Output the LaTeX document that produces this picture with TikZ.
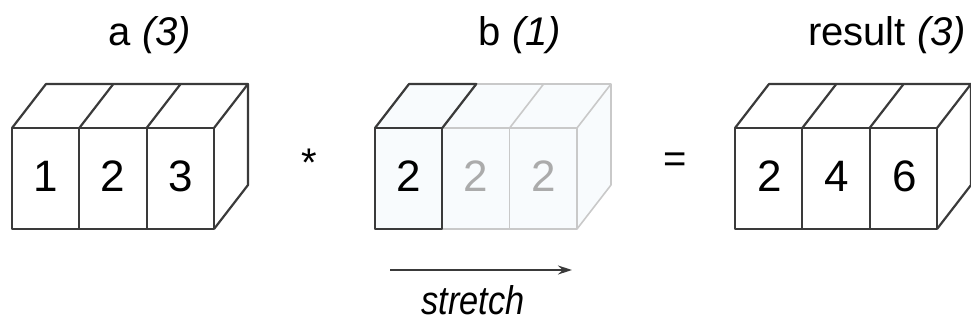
\documentclass[tikz,border=0pt]{standalone}
\usepackage{fontspec}
\setmainfont{Liberation Sans}
\usetikzlibrary{arrows.meta}
\definecolor{edge}{HTML}{3A3A3A}
\definecolor{faint}{HTML}{C9C9C9}
\definecolor{faintfill}{HTML}{F8FBFD}
\definecolor{fainttext}{HTML}{ABABAB}
\tikzset{
  cube/.style={draw=edge, line width=2.2pt, line join=round},
  ghost/.style={draw=faint, line width=1.6pt, line join=round},
  digit/.style={font=\fontsize{44}{44}\selectfont, inner sep=0pt, anchor=center},
  title/.style={font=\fontsize{40}{40}\selectfont, inner sep=0pt, anchor=base},
  oper/.style={font=\fontsize{40}{40}\selectfont, inner sep=0pt, anchor=center},
}
\newcommand{\blockbox}[2]{% #1 = x0, #2 = style
  \draw[#2] (#1,128) rectangle ++(202,101);
  \draw[#2] (#1+67.3,128) -- ++(0,101);
  \draw[#2] (#1+134.6,128) -- ++(0,101);
  \draw[#2] (#1,128) -- ++(34,-44) -- ++(202,0) -- ++(-34,44);
  \draw[#2] (#1+67.3,128) -- ++(34,-44);
  \draw[#2] (#1+134.6,128) -- ++(34,-44);
  \draw[#2] (#1+236,84) -- ++(0,101) -- ++(-34,44);
}
\begin{document}
\begin{tikzpicture}[x=1pt,y=-1pt]
\useasboundingbox (0,0) rectangle (971,324);
% block a
\blockbox{12}{cube}
\node[digit] (a1) at (45.6,176) {1};
\node[digit] (a2) at (113,176) {2};
\node[digit] (a3) at (180.3,176) {3};
\node[title] (ta) at (150,45) {a \textit{(3)}};
% operator
\node[oper] (times) at (309,163) {*};
% block b
\fill[faintfill] (375,128) -- (409,84) -- (611,84) -- (611,185) -- (577,229) -- (375,229) -- cycle;
\blockbox{375}{ghost}
\draw[cube] (375,128) rectangle ++(67.3,101);
\draw[cube] (375,128) -- ++(34,-44) -- ++(67.3,0) -- ++(-34,44);
\node[digit] (b1) at (408.6,176) {2};
\node[digit, text=fainttext] (b2) at (476,176) {2};
\node[digit, text=fainttext] (b3) at (543.3,176) {2};
\node[title] (tb) at (520,45) {b \textit{(1)}};
% stretch arrow
\coordinate (s0) at (390,270);
\coordinate (s1) at (572,270);
\draw[edge, line width=1.5pt, -{Stealth[length=14pt,width=9pt]}] (s0) -- (s1);
\node[font=\fontsize{40}{40}\selectfont\itshape, inner sep=0pt, anchor=base, xscale=0.86] (st) at (473,314) {stretch};
% equals
\node[oper] (eq) at (675,163) {=};
% result block
\blockbox{735}{cube}
\node[digit] (r1) at (769.6,176) {2};
\node[digit] (r2) at (837,176) {4};
\node[digit] (r3) at (904.3,176) {6};
\node[title] (tr) at (887,45) {result \textit{(3)}};
\end{tikzpicture}
\end{document}
